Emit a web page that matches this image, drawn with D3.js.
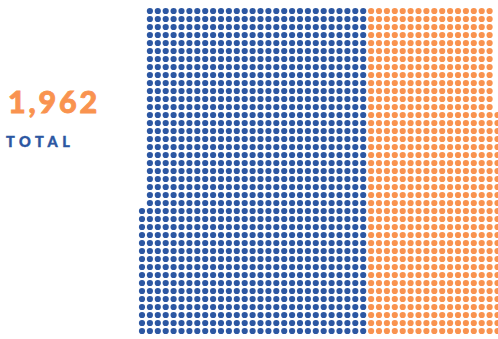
<!DOCTYPE html>
<html>
<head>
<meta charset="utf-8">
<script src="https://cdn.jsdelivr.net/npm/d3@7"></script>
<style>
  html, body { margin: 0; padding: 0; background: #fff; }
  svg { display: block; }
</style>
</head>
<body>
<svg id="chart" width="498" height="339"></svg>
<script>
// Dot-grid (waffle) data: one dot per unit, each group filled column by column from the bottom
const groups = ["left", "right"];
const counts = [1164, 684];
const colors = ["#2c57a2", "#f9934f"];
const totalLabel = 1962;
const totalCaption = "TOTAL";
const rowsPerColumn = 41;

const svg = d3.select("#chart");

// columns: blue grows leftwards from the split, orange grows rightwards
const leftCols = Math.ceil(counts[0] / rowsPerColumn);
const rightCols = Math.ceil(counts[1] / rowsPerColumn);
const totalCols = leftCols + rightCols;

const x = d3.scaleLinear().domain([0, totalCols - 1]).range([142, 497.5]);
const y = d3.scaleLinear().domain([0, rowsPerColumn - 1]).range([11, 331]);

const dots = [];
counts.forEach((n, g) => {
  for (let i = 0; i < n; i++) {
    const k = Math.floor(i / rowsPerColumn);
    const col = g === 0 ? leftCols - 1 - k : leftCols + k;
    const row = rowsPerColumn - 1 - (i % rowsPerColumn);
    dots.push({ g, col, row });
  }
});

svg.append("g")
  .selectAll("circle")
  .data(dots)
  .join("circle")
  .attr("cx", d => x(d.col))
  .attr("cy", d => y(d.row))
  .attr("r", 3.1)
  .attr("fill", d => colors[d.g]);

// headline total, slightly stroked for a heavier weight
svg.append("text")
  .attr("x", 8)
  .attr("y", 113)
  .attr("font-family", "Lato, 'Open Sans', sans-serif")
  .attr("font-weight", 900)
  .attr("font-size", 30.5)
  .attr("letter-spacing", 2.8)
  .attr("fill", colors[1])
  .attr("stroke", colors[1])
  .attr("stroke-width", 0.8)
  .text(d3.format(",")(totalLabel));

svg.append("text")
  .attr("x", 6)
  .attr("y", 147)
  .attr("font-family", "Lato, 'Open Sans', sans-serif")
  .attr("font-weight", 900)
  .attr("font-size", 14.5)
  .attr("letter-spacing", 4.6)
  .attr("fill", colors[0])
  .attr("stroke", colors[0])
  .attr("stroke-width", 0.4)
  .text(totalCaption);
</script>
</body>
</html>
